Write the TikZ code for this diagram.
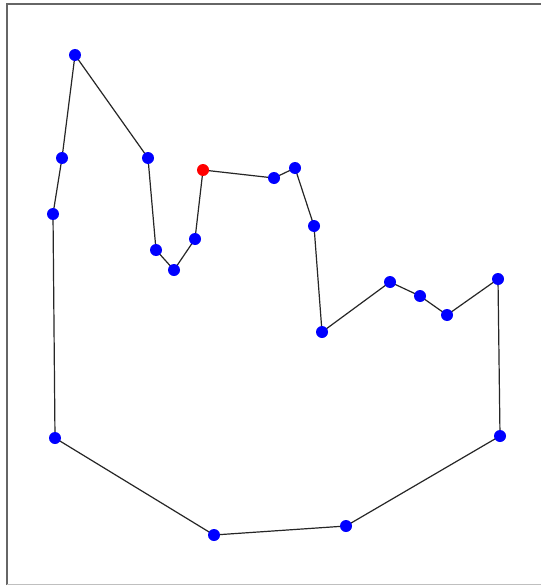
\documentclass[tikz,border=0pt]{standalone}
\begin{document}
\begin{tikzpicture}[x=1pt,y=-1pt,
  pt/.style={circle,fill=blue,inner sep=0pt,minimum size=12pt},
  redpt/.style={circle,fill=red,inner sep=0pt,minimum size=12pt},
  edge/.style={draw=black!85,line width=1.2pt}]
\useasboundingbox (0,0) rectangle (541,586);
\fill[white] (0,0) rectangle (541,586);
\draw[black!60,line width=2pt] (6.5,585) -- (6.5,4.5) -- (541,4.5);
\draw[black!25,line width=1.5pt] (6.5,584.5) -- (541,584.5);
\coordinate (p1) at (75,55);
\coordinate (p2) at (148,158);
\coordinate (p3) at (156,250);
\coordinate (p4) at (174,270);
\coordinate (p5) at (195,239);
\coordinate (p6) at (203,170);
\coordinate (p7) at (274,178);
\coordinate (p8) at (295,168);
\coordinate (p9) at (314,226);
\coordinate (p10) at (322,332);
\coordinate (p11) at (390,282);
\coordinate (p12) at (420,296);
\coordinate (p13) at (447,315);
\coordinate (p14) at (498,279);
\coordinate (p15) at (500,436);
\coordinate (p16) at (346,526);
\coordinate (p17) at (214,535);
\coordinate (p18) at (55,438);
\coordinate (p19) at (53,214);
\coordinate (p20) at (62,158);
\draw[edge] (p1) -- (p2) -- (p3) -- (p4) -- (p5) -- (p6) -- (p7) -- (p8) -- (p9) -- (p10) -- (p11) -- (p12) -- (p13) -- (p14) -- (p15) -- (p16) -- (p17) -- (p18) -- (p19) -- (p20) -- cycle;
\foreach \i in {1,2,3,4,5,7,8,9,10,11,12,13,14,15,16,17,18,19,20}
  \node[pt] (n\i) at (p\i) {};
\node[redpt] (n6) at (p6) {};
\end{tikzpicture}
\end{document}
